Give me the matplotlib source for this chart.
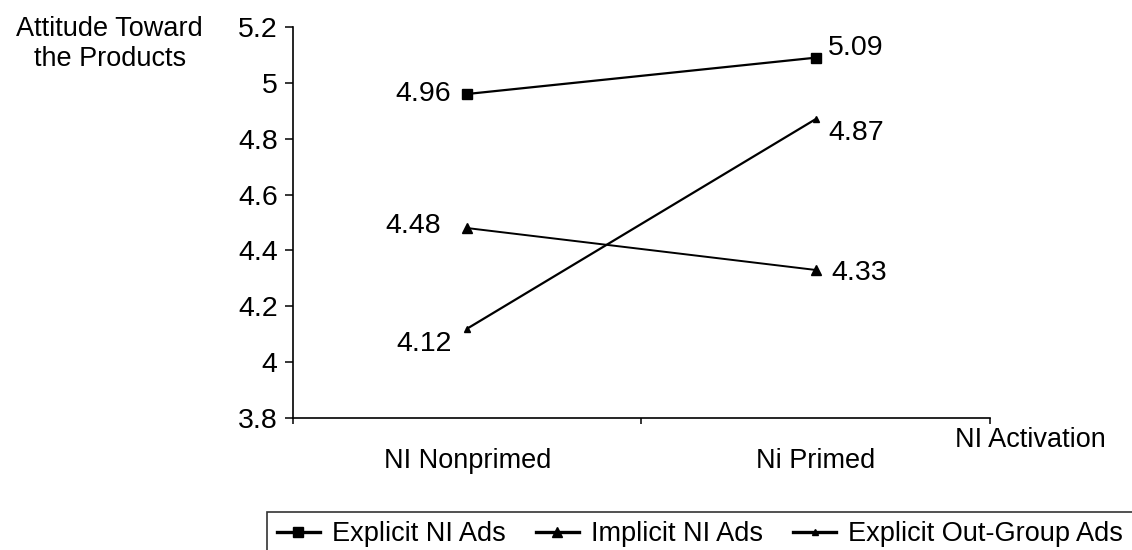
import numpy as np
import matplotlib.pyplot as plt

plt.rcParams['font.family'] = ['Liberation Sans', 'DejaVu Sans']

conditions = ['NI Nonprimed', 'Ni Primed']
explicit_ni = [4.96, 5.09]
implicit_ni = [4.48, 4.33]
explicit_out = [4.12, 4.87]
y_ticks = [3.8, 4, 4.2, 4.4, 4.6, 4.8, 5, 5.2]
y_tick_labels = ['3.8', '4', '4.2', '4.4', '4.6', '4.8', '5', '5.2']

fs = 19.5      # labels
fs_num = 20.5  # numbers

fig = plt.figure(figsize=(11.32, 5.5), dpi=100)
ax = fig.add_axes([0.2588, 0.24, 0.6157, 0.711])

x = np.arange(len(conditions))
l1, = ax.plot(x, explicit_ni, color='black', lw=1.6, marker='s', ms=7,
              label='Explicit NI Ads')
l2, = ax.plot(x, implicit_ni, color='black', lw=1.4, marker='^', ms=7.5,
              label='Implicit NI Ads')
l3, = ax.plot(x, explicit_out, color='black', lw=1.6, marker='^', ms=4.5,
              label='Explicit Out-Group Ads')

# value labels beside each point, offsets in points
labels = [
    (explicit_ni, [(-12, 2, 'right'), (9, 9, 'left')]),
    (implicit_ni, [(-19, 4, 'right'), (11, 0, 'left')]),
    (explicit_out, [(-11, -9, 'right'), (9, -8, 'left')]),
]
for vals, offs in labels:
    for i, (v, (dx, dy, ha)) in enumerate(zip(vals, offs)):
        ax.annotate('{:.2f}'.format(v), (x[i], v), xytext=(dx, dy),
                    textcoords='offset points', ha=ha, va='center_baseline',
                    fontsize=fs_num)

ax.set_xlim(-0.5, 1.5)
ax.set_ylim(3.8, 5.2)
ax.set_yticks(y_ticks)
ax.set_yticklabels(y_tick_labels, fontsize=fs_num)
ax.tick_params(axis='y', direction='out', length=6, width=1.1, pad=5)

# category boundaries as ticks, names centred between them
ax.set_xticks([-0.5, 0.5, 1.5])
ax.set_xticklabels([])
ax.tick_params(axis='x', direction='out', length=4, width=1.1)
for xi, name in zip(x, conditions):
    ax.text(xi, -0.128, name, transform=ax.get_xaxis_transform(),
            ha='center', va='baseline', fontsize=fs)

for side in ['top', 'right']:
    ax.spines[side].set_visible(False)
for side in ['left', 'bottom']:
    ax.spines[side].set_linewidth(1.2)

fig.text(0.097, 0.92, 'Attitude Toward\nthe Products', ha='center',
         va='center', fontsize=fs, linespacing=1.15)
fig.text(0.8436, 0.2, 'NI Activation', ha='left', va='center',
         fontsize=fs)

leg = fig.legend(handles=[l1, l2, l3], loc='upper left',
                 bbox_to_anchor=(0.2359, 0.0691), ncol=3, fontsize=fs,
                 frameon=True, fancybox=False, edgecolor='black',
                 handlelength=1.6, handletextpad=0.45, columnspacing=1.1,
                 borderpad=0.35, borderaxespad=0)
leg.get_frame().set_linewidth(1.2)
for h in leg.get_lines():
    h.set_linewidth(2.4)

fig.savefig('out.png', dpi=100)
